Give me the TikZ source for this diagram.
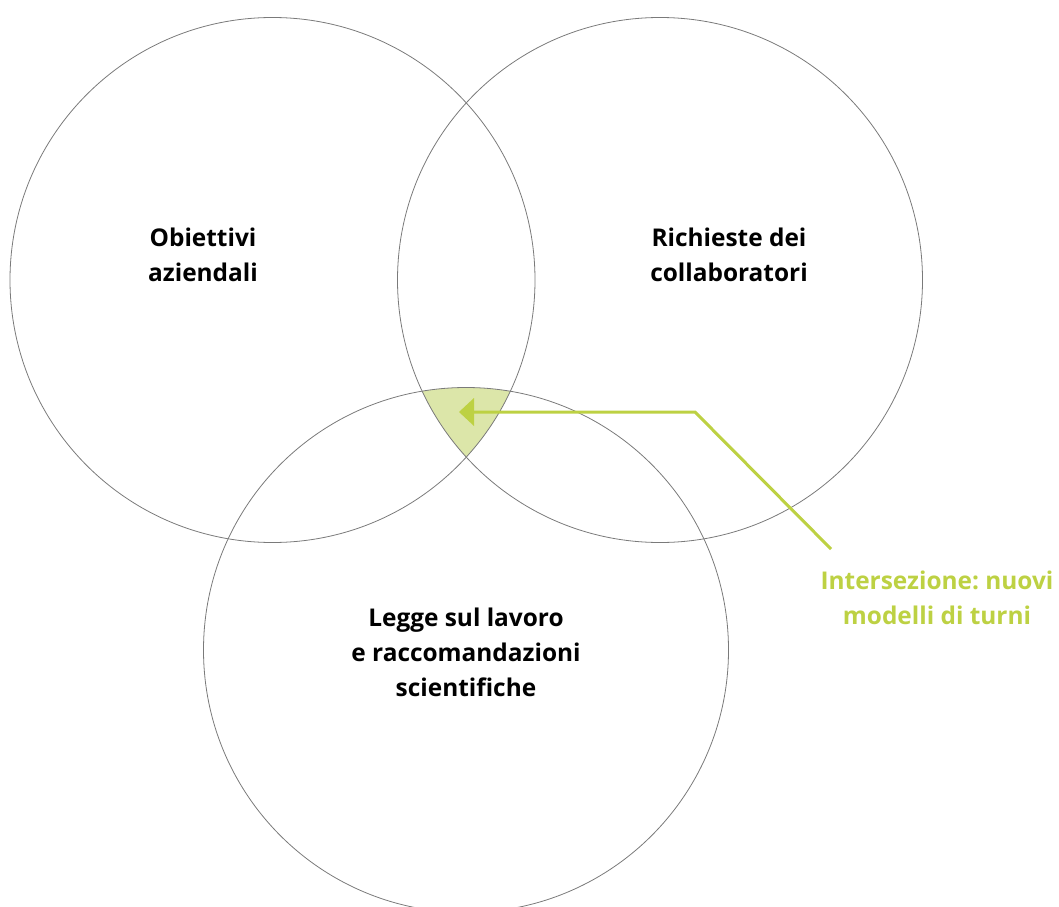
\documentclass[tikz,border=0pt]{standalone}
\usepackage{fontspec}
\setmainfont{Open Sans}
\frenchspacing
\definecolor{lime}{HTML}{BDD143}
\definecolor{limefill}{HTML}{DCE6A9}
\definecolor{ring}{HTML}{7A7A7A}
\begin{document}
\begin{tikzpicture}[x=1bp,y=-1bp,
  ring/.style={draw=ring,line width=0.8bp},
  lbl/.style={font=\fontsize{24.5}{35}\selectfont\bfseries,align=center,text=black},
  glbl/.style={font=\fontsize{24.5}{35}\selectfont\bfseries,align=center,text=lime},
  pointer/.style={draw=lime,line width=3bp}]
\useasboundingbox (0,0) rectangle (1059,907);
\coordinate (cA) at (272.5,280);
\coordinate (cB) at (660,280);
\coordinate (cC) at (466,650);
\begin{scope}
  \clip (cA) circle (262.5);
  \clip (cB) circle (262.5);
  \fill[limefill] (cC) circle (262.5);
\end{scope}
\draw[ring] (cA) circle (262.5);
\draw[ring] (cB) circle (262.5);
\draw[ring] (cC) circle (262.5);
\node[lbl] (a) at (203,255) {Obiettivi\\aziendali};
\node[lbl] (b) at (729,255) {Richieste dei\\collaboratori};
\node[lbl] (c) at (466,652) {\frenchspacing Legge sul lavoro\\e raccomandazioni\\scientifiche};
\node[glbl] (g) at (937,598) {\frenchspacing Intersezione: nuovi\\modelli di turni};
\coordinate (tip) at (459,412);
\coordinate (bend) at (695,412);
\coordinate (start) at (831,549);
\draw[pointer] (start) -- (bend) -- (473,412);
\fill[lime] (tip) -- (474,398) -- (474,426) -- cycle;
\end{tikzpicture}
\end{document}
